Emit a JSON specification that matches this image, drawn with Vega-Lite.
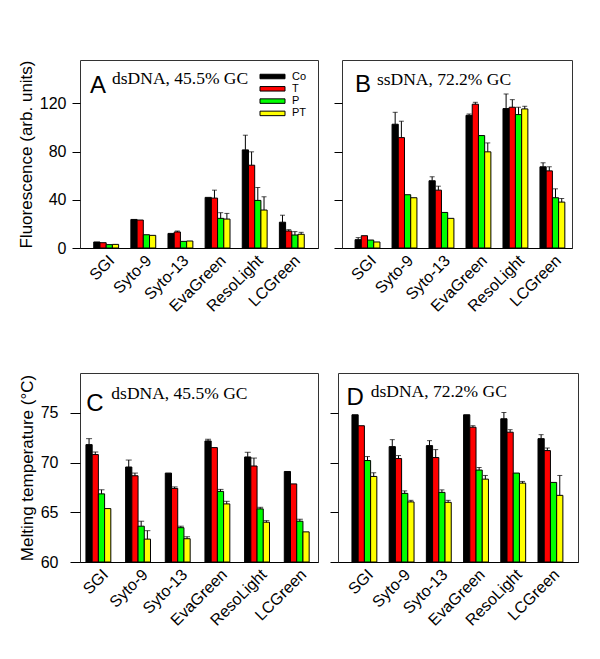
{
 "$schema": "https://vega.github.io/schema/vega-lite/v6.json",
 "background": "white",
 "padding": {"left": 16, "top": 59, "right": 5, "bottom": 5},
 "datasets": {
  "fl": [
   {"p":"A","d":"SGI","s":"Co","v":5.0},{"p":"A","d":"SGI","s":"T","v":4.4},{"p":"A","d":"SGI","s":"P","v":2.8},{"p":"A","d":"SGI","s":"PT","v":3.0},
   {"p":"A","d":"Syto-9","s":"Co","v":23.7},{"p":"A","d":"Syto-9","s":"T","v":23.2},{"p":"A","d":"Syto-9","s":"P","v":11.0},{"p":"A","d":"Syto-9","s":"PT","v":10.5},
   {"p":"A","d":"Syto-13","s":"Co","v":12.1},{"p":"A","d":"Syto-13","s":"T","v":13.3,"e":14.1},{"p":"A","d":"Syto-13","s":"P","v":5.5},{"p":"A","d":"Syto-13","s":"PT","v":5.8},
   {"p":"A","d":"EvaGreen","s":"Co","v":42.0},{"p":"A","d":"EvaGreen","s":"T","v":41.4,"e":48.0},{"p":"A","d":"EvaGreen","s":"P","v":24.6,"e":29.3},{"p":"A","d":"EvaGreen","s":"PT","v":24.0,"e":28.7},
   {"p":"A","d":"ResoLight","s":"Co","v":81.4,"e":93.6},{"p":"A","d":"ResoLight","s":"T","v":68.7,"e":79.8},{"p":"A","d":"ResoLight","s":"P","v":39.5,"e":50.2},{"p":"A","d":"ResoLight","s":"PT","v":31.5,"e":42.5},
   {"p":"A","d":"LCGreen","s":"Co","v":21.4,"e":27.2},{"p":"A","d":"LCGreen","s":"T","v":14.1,"e":15.2},{"p":"A","d":"LCGreen","s":"P","v":10.8,"e":13.6},{"p":"A","d":"LCGreen","s":"PT","v":11.4,"e":13.0},
   {"p":"B","d":"SGI","s":"Co","v":6.9,"e":8.6},{"p":"B","d":"SGI","s":"T","v":10.2},{"p":"B","d":"SGI","s":"P","v":6.6},{"p":"B","d":"SGI","s":"PT","v":5.0},
   {"p":"B","d":"Syto-9","s":"Co","v":102.7,"e":112.6},{"p":"B","d":"Syto-9","s":"T","v":91.6,"e":105.2},{"p":"B","d":"Syto-9","s":"P","v":44.2},{"p":"B","d":"Syto-9","s":"PT","v":41.7},
   {"p":"B","d":"Syto-13","s":"Co","v":55.8,"e":59.1},{"p":"B","d":"Syto-13","s":"T","v":48.0,"e":51.3},{"p":"B","d":"Syto-13","s":"P","v":29.5},{"p":"B","d":"Syto-13","s":"PT","v":24.6},
   {"p":"B","d":"EvaGreen","s":"Co","v":110.1,"e":111.2},{"p":"B","d":"EvaGreen","s":"T","v":119.3,"e":120.9},{"p":"B","d":"EvaGreen","s":"P","v":93.3},{"p":"B","d":"EvaGreen","s":"PT","v":79.8,"e":87.2},
   {"p":"B","d":"ResoLight","s":"Co","v":115.7,"e":127.8},{"p":"B","d":"ResoLight","s":"T","v":116.8,"e":123.1},{"p":"B","d":"ResoLight","s":"P","v":110.7,"e":116.8},{"p":"B","d":"ResoLight","s":"PT","v":115.4,"e":117.6},
   {"p":"B","d":"LCGreen","s":"Co","v":67.4,"e":70.7},{"p":"B","d":"LCGreen","s":"T","v":64.0,"e":67.4},{"p":"B","d":"LCGreen","s":"P","v":41.7,"e":49.1},{"p":"B","d":"LCGreen","s":"PT","v":38.1,"e":41.1}
  ],
  "tm": [
   {"p":"C","d":"SGI","s":"Co","v":71.8,"e":72.4},{"p":"C","d":"SGI","s":"T","v":70.8,"e":71.06},{"p":"C","d":"SGI","s":"P","v":66.85,"e":67.26},{"p":"C","d":"SGI","s":"PT","v":65.37},
   {"p":"C","d":"Syto-9","s":"Co","v":69.55,"e":70.25},{"p":"C","d":"Syto-9","s":"T","v":68.67,"e":68.94},{"p":"C","d":"Syto-9","s":"P","v":63.6,"e":64.1},{"p":"C","d":"Syto-9","s":"PT","v":62.3,"e":63.15},
   {"p":"C","d":"Syto-13","s":"Co","v":68.94},{"p":"C","d":"Syto-13","s":"T","v":67.4,"e":67.55},{"p":"C","d":"Syto-13","s":"P","v":63.45,"e":63.6},{"p":"C","d":"Syto-13","s":"PT","v":62.34,"e":62.54},
   {"p":"C","d":"EvaGreen","s":"Co","v":72.17,"e":72.34},{"p":"C","d":"EvaGreen","s":"T","v":71.5},{"p":"C","d":"EvaGreen","s":"P","v":67.1,"e":67.3},{"p":"C","d":"EvaGreen","s":"PT","v":65.84,"e":66.1},
   {"p":"C","d":"ResoLight","s":"Co","v":70.56,"e":71.03},{"p":"C","d":"ResoLight","s":"T","v":69.65,"e":70.45},{"p":"C","d":"ResoLight","s":"P","v":65.34,"e":65.5},{"p":"C","d":"ResoLight","s":"PT","v":64.0,"e":64.16},
   {"p":"C","d":"LCGreen","s":"Co","v":69.1},{"p":"C","d":"LCGreen","s":"T","v":67.85},{"p":"C","d":"LCGreen","s":"P","v":64.1,"e":64.3},{"p":"C","d":"LCGreen","s":"PT","v":63.03},
   {"p":"D","d":"SGI","s":"Co","v":74.8},{"p":"D","d":"SGI","s":"T","v":73.7},{"p":"D","d":"SGI","s":"P","v":70.2,"e":70.6},{"p":"D","d":"SGI","s":"PT","v":68.6,"e":68.97},
   {"p":"D","d":"Syto-9","s":"Co","v":71.6,"e":72.3},{"p":"D","d":"Syto-9","s":"T","v":70.4,"e":70.7},{"p":"D","d":"Syto-9","s":"P","v":66.9,"e":67.15},{"p":"D","d":"Syto-9","s":"PT","v":66.04,"e":66.2},
   {"p":"D","d":"Syto-13","s":"Co","v":71.7,"e":72.2},{"p":"D","d":"Syto-13","s":"T","v":70.5,"e":71.3},{"p":"D","d":"Syto-13","s":"P","v":67.0,"e":67.25},{"p":"D","d":"Syto-13","s":"PT","v":66.0,"e":66.2},
   {"p":"D","d":"EvaGreen","s":"Co","v":74.8},{"p":"D","d":"EvaGreen","s":"T","v":73.55,"e":73.7},{"p":"D","d":"EvaGreen","s":"P","v":69.24,"e":69.5},{"p":"D","d":"EvaGreen","s":"PT","v":68.33,"e":68.7},
   {"p":"D","d":"ResoLight","s":"Co","v":74.4,"e":75.03},{"p":"D","d":"ResoLight","s":"T","v":73.05,"e":73.3},{"p":"D","d":"ResoLight","s":"P","v":68.94},{"p":"D","d":"ResoLight","s":"PT","v":67.93,"e":68.1},
   {"p":"D","d":"LCGreen","s":"Co","v":72.4,"e":72.8},{"p":"D","d":"LCGreen","s":"T","v":71.2,"e":71.46},{"p":"D","d":"LCGreen","s":"P","v":68.0},{"p":"D","d":"LCGreen","s":"PT","v":66.7,"e":68.7}
  ]
 },
 "config": {
  "font": "Liberation Sans",
  "view": {"stroke": "#333333", "strokeWidth": 1},
  "axisX": {"labelAngle": -45, "labelFontSize": 16, "labelFont": "Liberation Sans", "labelColor": "black", "ticks": false, "domainColor": "black", "domainWidth": 1, "labelPadding": 4},
  "axisY": {"labelFontSize": 16, "labelFont": "Liberation Sans", "labelColor": "black", "titleFontSize": 17, "titleFont": "Liberation Sans", "titleFontWeight": "normal", "titleColor": "black", "tickColor": "black", "tickSize": 8, "labelPadding": 6, "domain": false, "grid": false, "titlePadding": 4}
 },
 "resolve": {"scale": {"color": "independent", "y": "independent"}, "legend": {"color": "independent"}},
 "spacing": 57,
 "vconcat": [
  {
   "resolve": {"scale": {"color": "independent", "y": "independent", "x": "independent"}, "legend": {"color": "independent"}},
   "spacing": 14,
   "hconcat": [
    {
     "width": 238, "height": 188,
     "data": {"name": "fl"},
     "transform": [{"filter": "datum.p === 'A'"}],
     "encoding": {
      "x": {"field": "d", "type": "nominal", "sort": ["SGI","Syto-9","Syto-13","EvaGreen","ResoLight","LCGreen"], "title": null, "scale": {"paddingInner": 0.33, "paddingOuter": 0.37}},
      "xOffset": {"field": "s", "type": "nominal", "sort": ["Co","T","P","PT"], "scale": {"paddingInner": 0, "paddingOuter": 0}}
     },
     "layer": [
      {"mark": {"type": "bar", "stroke": "black", "strokeWidth": 1},
       "encoding": {
        "y": {"field": "v", "type": "quantitative", "title": "Fluorescence (arb. units)", "scale": {"domain": [0, 156], "nice": false}, "axis": {"values": [0, 40, 80, 120]}},
        "color": {"field": "s", "type": "nominal", "scale": {"domain": ["Co","T","P","PT"], "range": ["#000000","#ff0000","#00ff00","#ffff00"]},
         "legend": {"orient": "top-right", "offset": 11, "title": null, "symbolType": "M-2.5,-0.45H2.5V0.45H-2.5Z", "symbolSize": 100, "symbolStrokeColor": "black", "symbolStrokeWidth": 1, "labelFontSize": 11, "labelFont": "Liberation Sans", "labelColor": "black", "labelOffset": 14, "rowPadding": 0.3, "padding": 0}}
       }},
      {"transform": [{"filter": "datum.e != null"}], "mark": {"type": "rule", "color": "black", "strokeWidth": 1}, "encoding": {"y": {"field": "v", "type": "quantitative"}, "y2": {"field": "e"}}},
      {"transform": [{"filter": "datum.e != null"}], "mark": {"type": "tick", "color": "black", "thickness": 1, "size": 5, "orient": "horizontal"}, "encoding": {"y": {"field": "e", "type": "quantitative"}}},
      {"data": {"values": [{"p": "A", "d": "SGI", "s": "Co", "t": "A"}]}, "mark": {"type": "text", "align": "left", "baseline": "alphabetic", "font": "Liberation Sans", "fontSize": 24, "dx": -6.8, "color": "black"}, "encoding": {"y": {"datum": 128.4}, "text": {"field": "t"}}},
      {"data": {"values": [{"p": "A", "d": "SGI", "s": "Co", "t": "dsDNA, 45.5% GC"}]}, "mark": {"type": "text", "align": "left", "baseline": "alphabetic", "font": "Liberation Serif", "fontSize": 17.5, "dx": 15.2, "color": "black"}, "encoding": {"y": {"datum": 135.8}, "text": {"field": "t"}}}
     ]
    },
    {
     "width": 230, "height": 188,
     "data": {"name": "fl"},
     "transform": [{"filter": "datum.p === 'B'"}],
     "encoding": {
      "x": {"field": "d", "type": "nominal", "sort": ["SGI","Syto-9","Syto-13","EvaGreen","ResoLight","LCGreen"], "title": null, "scale": {"paddingInner": 0.3, "paddingOuter": 0.26, "align": 0.68}},
      "xOffset": {"field": "s", "type": "nominal", "sort": ["Co","T","P","PT"], "scale": {"paddingInner": 0, "paddingOuter": 0}}
     },
     "layer": [
      {"mark": {"type": "bar", "stroke": "black", "strokeWidth": 1},
       "encoding": {
        "y": {"field": "v", "type": "quantitative", "title": null, "scale": {"domain": [0, 156], "nice": false}, "axis": {"values": [0, 40, 80, 120], "labels": false}},
        "color": {"field": "s", "type": "nominal", "scale": {"domain": ["Co","T","P","PT"], "range": ["#000000","#ff0000","#00ff00","#ffff00"]}, "legend": null}
       }},
      {"transform": [{"filter": "datum.e != null"}], "mark": {"type": "rule", "color": "black", "strokeWidth": 1}, "encoding": {"y": {"field": "v", "type": "quantitative"}, "y2": {"field": "e"}}},
      {"transform": [{"filter": "datum.e != null"}], "mark": {"type": "tick", "color": "black", "thickness": 1, "size": 5, "orient": "horizontal"}, "encoding": {"y": {"field": "e", "type": "quantitative"}}},
      {"data": {"values": [{"p": "B", "d": "SGI", "s": "Co", "t": "B"}]}, "mark": {"type": "text", "align": "left", "baseline": "alphabetic", "font": "Liberation Sans", "fontSize": 24, "dx": -3.3, "color": "black"}, "encoding": {"y": {"datum": 129.2}, "text": {"field": "t"}}},
      {"data": {"values": [{"p": "B", "d": "SGI", "s": "Co", "t": "ssDNA, 72.2% GC"}]}, "mark": {"type": "text", "align": "left", "baseline": "alphabetic", "font": "Liberation Serif", "fontSize": 17.5, "dx": 18.7, "color": "black"}, "encoding": {"y": {"datum": 135.5}, "text": {"field": "t"}}}
     ]
    }
   ]
  },
  {
   "resolve": {"scale": {"color": "independent", "y": "independent", "x": "independent"}, "legend": {"color": "independent"}},
   "spacing": 10,
   "hconcat": [
    {
     "width": 238, "height": 189,
     "data": {"name": "tm"},
     "transform": [{"filter": "datum.p === 'C'"}],
     "encoding": {
      "x": {"field": "d", "type": "nominal", "sort": ["SGI","Syto-9","Syto-13","EvaGreen","ResoLight","LCGreen"], "title": null, "scale": {"paddingInner": 0.3, "paddingOuter": 0.15}},
      "xOffset": {"field": "s", "type": "nominal", "sort": ["Co","T","P","PT"], "scale": {"paddingInner": 0, "paddingOuter": 0}}
     },
     "layer": [
      {"mark": {"type": "bar", "stroke": "black", "strokeWidth": 1},
       "encoding": {
        "y": {"field": "v", "type": "quantitative", "title": "Melting temperature (°C)", "scale": {"domain": [60, 79], "nice": false, "zero": false}, "axis": {"values": [60, 65, 70, 75], "tickSize": 10, "labelPadding": 12, "titlePadding": 4}},
        "y2": {"datum": 60},
        "color": {"field": "s", "type": "nominal", "scale": {"domain": ["Co","T","P","PT"], "range": ["#000000","#ff0000","#00ff00","#ffff00"]}, "legend": null}
       }},
      {"transform": [{"filter": "datum.e != null"}], "mark": {"type": "rule", "color": "black", "strokeWidth": 1}, "encoding": {"y": {"field": "v", "type": "quantitative"}, "y2": {"field": "e"}}},
      {"transform": [{"filter": "datum.e != null"}], "mark": {"type": "tick", "color": "black", "thickness": 1, "size": 6, "orient": "horizontal"}, "encoding": {"y": {"field": "e", "type": "quantitative"}}},
      {"data": {"values": [{"p": "C", "d": "SGI", "s": "Co", "t": "C"}]}, "mark": {"type": "text", "align": "left", "baseline": "alphabetic", "font": "Liberation Sans", "fontSize": 24, "dx": -2.7, "color": "black"}, "encoding": {"y": {"datum": 75.18}, "text": {"field": "t"}}},
      {"data": {"values": [{"p": "C", "d": "SGI", "s": "Co", "t": "dsDNA, 45.5% GC"}]}, "mark": {"type": "text", "align": "left", "baseline": "alphabetic", "font": "Liberation Serif", "fontSize": 17.5, "dx": 22.3, "color": "black"}, "encoding": {"y": {"datum": 76.34}, "text": {"field": "t"}}}
     ]
    },
    {
     "width": 240, "height": 189,
     "data": {"name": "tm"},
     "transform": [{"filter": "datum.p === 'D'"}],
     "encoding": {
      "x": {"field": "d", "type": "nominal", "sort": ["SGI","Syto-9","Syto-13","EvaGreen","ResoLight","LCGreen"], "title": null, "scale": {"paddingInner": 0.3, "paddingOuter": 0.375}},
      "xOffset": {"field": "s", "type": "nominal", "sort": ["Co","T","P","PT"], "scale": {"paddingInner": 0, "paddingOuter": 0}}
     },
     "layer": [
      {"mark": {"type": "bar", "stroke": "black", "strokeWidth": 1},
       "encoding": {
        "y": {"field": "v", "type": "quantitative", "title": null, "scale": {"domain": [60, 79], "nice": false, "zero": false}, "axis": {"values": [60, 65, 70, 75], "labels": false}},
        "y2": {"datum": 60},
        "color": {"field": "s", "type": "nominal", "scale": {"domain": ["Co","T","P","PT"], "range": ["#000000","#ff0000","#00ff00","#ffff00"]}, "legend": null}
       }},
      {"transform": [{"filter": "datum.e != null"}], "mark": {"type": "rule", "color": "black", "strokeWidth": 1}, "encoding": {"y": {"field": "v", "type": "quantitative"}, "y2": {"field": "e"}}},
      {"transform": [{"filter": "datum.e != null"}], "mark": {"type": "tick", "color": "black", "thickness": 1, "size": 5, "orient": "horizontal"}, "encoding": {"y": {"field": "e", "type": "quantitative"}}},
      {"data": {"values": [{"p": "D", "d": "SGI", "s": "Co", "t": "D"}]}, "mark": {"type": "text", "align": "left", "baseline": "alphabetic", "font": "Liberation Sans", "fontSize": 24, "dx": -8.6, "color": "black"}, "encoding": {"y": {"datum": 75.81}, "text": {"field": "t"}}},
      {"data": {"values": [{"p": "D", "d": "SGI", "s": "Co", "t": "dsDNA, 72.2% GC"}]}, "mark": {"type": "text", "align": "left", "baseline": "alphabetic", "font": "Liberation Serif", "fontSize": 17.5, "dx": 15.7, "color": "black"}, "encoding": {"y": {"datum": 76.56}, "text": {"field": "t"}}}
     ]
    }
   ]
  }
 ]
}
